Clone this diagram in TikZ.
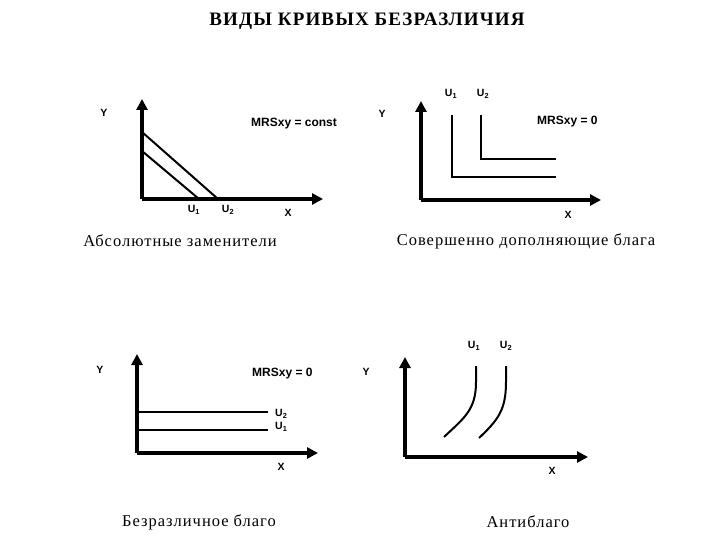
\documentclass[tikz,border=0pt]{standalone}
\usepackage{fontspec}
\setmainfont{Liberation Serif}
\newfontfamily\lblfont{Liberation Sans}
\newfontfamily\capfont[LetterSpace=6]{Liberation Serif}
\newfontfamily\ttlfont[LetterSpace=6]{Liberation Serif}
\usepackage{tikz}
\usetikzlibrary{arrows.meta, positioning}

\begin{document}
\begin{tikzpicture}[
    x=1pt, y=-1pt,
    axis/.style={line width=3.2pt, -{Triangle[length=11pt, width=11pt]}},
    curve/.style={line width=2pt},
    lbl/.style={font=\lblfont\bfseries\fontsize{10.5}{12}\selectfont, inner sep=0pt},
    mrs/.style={font=\lblfont\bfseries\fontsize{12}{14}\selectfont, inner sep=0pt, anchor=west},
    caption/.style={font=\capfont\fontsize{16.5}{18}\selectfont, inner sep=0pt}
]
    \useasboundingbox (0,0) rectangle (720,540);
    \node (title) [font=\ttlfont\bfseries\fontsize{19}{21}\selectfont, inner sep=0pt] at (367,21) {ВИДЫ КРИВЫХ БЕЗРАЗЛИЧИЯ};

    % absolute substitutes
    \coordinate (o1) at (142,199);
    \coordinate (y1) at (142,99);
    \coordinate (x1) at (323,199);
    \draw [axis] (o1) -- (y1);
    \draw [axis] (o1) -- (x1);
    \coordinate (a1) at (142,151);
    \coordinate (b1) at (199,199);
    \coordinate (a2) at (142,132);
    \coordinate (b2) at (218,199);
    \draw [curve] (a1) -- (b1);
    \draw [curve] (a2) -- (b2);
    \node (ylab1) [lbl] at (104,113) {Y};
    \node (xlab1) [lbl] at (288,213) {X};
    \node (u11) [lbl] at (194,210) {U\textsubscript{1}};
    \node (u12) [lbl] at (228,210) {U\textsubscript{2}};
    \node (mrs1) [mrs] at (251,124) {MRSxy = const};
    \node (cap1) [caption] at (180,241) {Абсолютные заменители};

    % perfect complements
    \coordinate (o2) at (421,200);
    \coordinate (y2) at (421,101);
    \coordinate (x2) at (601,200);
    \draw [axis] (o2) -- (y2);
    \draw [axis] (o2) -- (x2);
    \coordinate (c1) at (452,115);
    \coordinate (k1) at (452,177);
    \coordinate (e1) at (556,177);
    \coordinate (c2) at (481,115);
    \coordinate (k2) at (481,159);
    \coordinate (e2) at (556,159);
    \draw [curve] (c1) -- (k1) -- (e1);
    \draw [curve] (c2) -- (k2) -- (e2);
    \node (ylab2) [lbl] at (382,114) {Y};
    \node (xlab2) [lbl] at (568,215) {X};
    \node (u21) [lbl] at (451,94) {U\textsubscript{1}};
    \node (u22) [lbl] at (483,94) {U\textsubscript{2}};
    \node (mrs2) [mrs] at (537,122) {MRSxy = 0};
    \node (cap2) [caption] at (526,241) {Совершенно дополняющие блага};

    % neutral good
    \coordinate (o3) at (137,453);
    \coordinate (y3) at (137,354);
    \coordinate (x3) at (318,453);
    \draw [axis] (o3) -- (y3);
    \draw [axis] (o3) -- (x3);
    \coordinate (h1) at (137,430);
    \coordinate (g1) at (268,430);
    \coordinate (h2) at (137,412);
    \coordinate (g2) at (268,412);
    \draw [curve] (h1) -- (g1);
    \draw [curve] (h2) -- (g2);
    \node (ylab3) [lbl] at (100,370) {Y};
    \node (xlab3) [lbl] at (281,467) {X};
    \node (u32) [lbl, anchor=west] at (275,414) {U\textsubscript{2}};
    \node (u31) [lbl, anchor=west] at (275,427) {U\textsubscript{1}};
    \node (mrs3) [mrs] at (252,374) {MRSxy = 0};
    \node (cap3) [caption] at (199,522) {Безразличное благо};

    % antigood
    \coordinate (o4) at (405,457);
    \coordinate (y4) at (405,357);
    \coordinate (x4) at (588,457);
    \draw [axis] (o4) -- (y4);
    \draw [axis] (o4) -- (x4);
    \coordinate (p1) at (444,437);
    \coordinate (q1) at (476,366);
    \coordinate (p2) at (479,438);
    \coordinate (q2) at (506,366);
    \draw [curve] (p1) .. controls (464,418) and (476,410) .. (476,382) -- (q1);
    \draw [curve] (p2) .. controls (498,420) and (506,410) .. (506,382) -- (q2);
    \node (ylab4) [lbl] at (366,372) {Y};
    \node (xlab4) [lbl] at (552,471) {X};
    \node (u41) [lbl] at (474,346) {U\textsubscript{1}};
    \node (u42) [lbl] at (506,346) {U\textsubscript{2}};
    \node (cap4) [caption] at (528,522) {Антиблаго};
\end{tikzpicture}
\end{document}
